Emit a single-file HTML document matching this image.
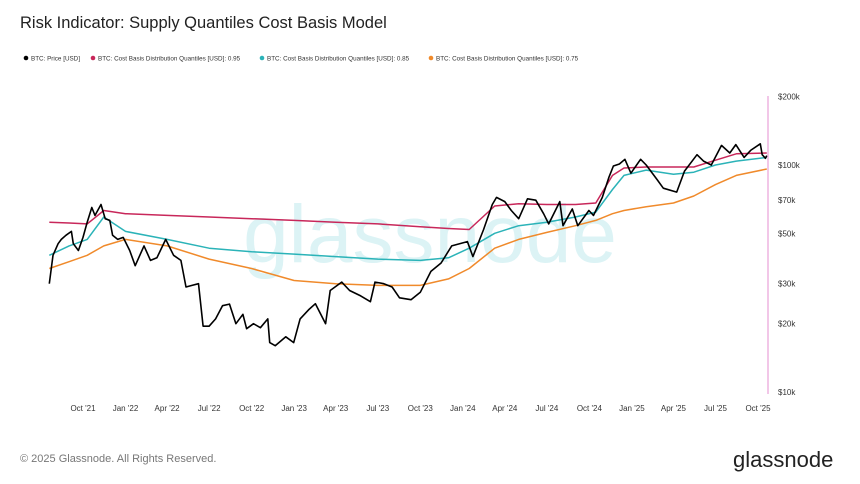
<!DOCTYPE html>
<html><head><meta charset="utf-8"><style>
body{margin:0;background:#fff;font-family:"Liberation Sans",sans-serif;}
#wrap{position:relative;width:860px;height:484px;overflow:hidden;background:#fff}
</style></head><body>
<div id="wrap">
<svg id="svg" width="860" height="484" xmlns="http://www.w3.org/2000/svg">
<text x="20" y="28" font-size="16.5" fill="#222">Risk Indicator: Supply Quantiles Cost Basis Model</text>
<g font-size="6.3" fill="#333">
<g><circle cx="26" cy="58" r="2.3" fill="#000"/><text x="31" y="60.5">BTC: Price [USD]</text></g>
<g><circle cx="93" cy="58" r="2.3" fill="#c8275a"/><text x="98" y="60.5">BTC: Cost Basis Distribution Quantiles [USD]: 0.95</text></g>
<g><circle cx="262" cy="58" r="2.3" fill="#2bb3b8"/><text x="267" y="60.5">BTC: Cost Basis Distribution Quantiles [USD]: 0.85</text></g>
<g><circle cx="431" cy="58" r="2.3" fill="#f08a2b"/><text x="436" y="60.5">BTC: Cost Basis Distribution Quantiles [USD]: 0.75</text></g>
</g>
<text x="430" y="262" font-size="82" fill="#dcf3f5" text-anchor="middle">glassnode</text>
<line x1="768" y1="96" x2="768" y2="394" stroke="#e58fd0" stroke-width="1"/>
<g id="yt" font-size="8" fill="#333"></g>
<g id="xt" font-size="8" fill="#333"></g>
<g id="series"></g>
<text x="20" y="462" font-size="11" fill="#777">© 2025 Glassnode. All Rights Reserved.</text>
<text x="733" y="467" font-size="22" fill="#222">glassnode</text>
</svg></div>
<script>
const yTicks=[10000,20000,30000,50000,70000,100000,200000];
const yTickLabels=["$10k","$20k","$30k","$50k","$70k","$100k","$200k"];
const xTickDates=["2021-10-01","2022-01-01","2022-04-01","2022-07-01","2022-10-01","2023-01-01","2023-04-01","2023-07-01","2023-10-01","2024-01-01","2024-04-01","2024-07-01","2024-10-01","2025-01-01","2025-04-01","2025-07-01","2025-10-01"];
const xTickLabels=["Oct '21","Jan '22","Apr '22","Jul '22","Oct '22","Jan '23","Apr '23","Jul '23","Oct '23","Jan '24","Apr '24","Jul '24","Oct '24","Jan '25","Apr '25","Jul '25","Oct '25"];
const priceDates=["2021-07-20","2021-07-28","2021-08-08","2021-08-15","2021-08-25","2021-09-06","2021-09-10","2021-09-21","2021-10-01","2021-10-10","2021-10-20","2021-10-27","2021-11-09","2021-11-18","2021-11-28","2021-12-04","2021-12-15","2021-12-27","2022-01-10","2022-01-22","2022-02-10","2022-02-24","2022-03-10","2022-03-29","2022-04-15","2022-05-01","2022-05-12","2022-05-25","2022-06-08","2022-06-18","2022-07-01","2022-07-15","2022-07-30","2022-08-14","2022-08-28","2022-09-12","2022-09-20","2022-10-05","2022-10-20","2022-11-05","2022-11-09","2022-11-21","2022-12-14","2022-12-31","2023-01-14","2023-02-01","2023-02-16","2023-03-10","2023-03-20","2023-04-14","2023-05-01","2023-05-25","2023-06-15","2023-06-25","2023-07-14","2023-08-01","2023-08-17","2023-09-11","2023-10-01","2023-10-24","2023-11-15","2023-12-08","2024-01-11","2024-01-23","2024-02-15","2024-03-05","2024-03-14","2024-04-01","2024-04-15","2024-05-01","2024-05-20","2024-06-07","2024-06-24","2024-07-05","2024-07-29","2024-08-05","2024-08-25","2024-09-06","2024-09-30","2024-10-10","2024-10-29","2024-11-12","2024-11-22","2024-12-05","2024-12-17","2024-12-30","2025-01-20","2025-02-01","2025-02-25","2025-03-10","2025-04-08","2025-04-25","2025-05-22","2025-06-05","2025-06-22","2025-07-14","2025-08-01","2025-08-14","2025-09-01","2025-09-15","2025-10-06","2025-10-10","2025-10-17","2025-10-20"];
const priceValues=[30000,40000,45000,47000,49000,51000,45000,42000,48000,56000,65000,60000,67000,58000,57000,49000,47000,48000,42000,36000,44000,38000,39000,47000,40000,38000,29000,29500,30000,19500,19500,21000,24000,24400,20000,22000,19000,20000,19200,21000,16500,16000,17500,16500,21000,23000,24500,20000,28000,30500,28000,26500,25000,30500,30000,29000,26000,25500,27500,34000,37000,44000,46000,39500,52000,67000,72000,69000,63000,58000,71000,70000,61000,55000,69000,54000,64000,54000,63000,60000,72000,88000,99000,101000,106000,92000,106000,100000,86000,79000,76000,94000,111000,104000,100000,122000,113000,123000,108000,116000,124000,111000,107000,110000];
const qDates=["2021-07-20","2021-09-01","2021-10-10","2021-11-15","2022-01-01","2022-04-01","2022-07-01","2022-10-01","2023-01-01","2023-04-01","2023-07-01","2023-10-01","2023-12-01","2024-01-15","2024-03-10","2024-05-01","2024-07-01","2024-09-01","2024-10-15","2024-11-20","2024-12-15","2025-02-01","2025-04-01","2025-05-15","2025-07-01","2025-08-15","2025-10-20"];
const q95Values=[56000,55500,55000,63000,61000,60000,59000,58000,57000,56000,55000,53500,52500,52000,66000,67500,67000,67000,68000,90000,97000,98000,98000,98000,105000,112000,113000];
const q85Values=[40000,44000,47000,59000,51000,47000,43000,41500,40500,39500,38500,38000,39000,43000,50000,54000,56000,59000,62000,78000,90000,95000,91000,93000,100000,104000,108000];
const q75Values=[35000,37500,40000,44000,47000,44000,38500,35000,31000,30000,29500,29500,31500,35000,43000,47000,50500,54000,57000,61000,63000,65500,68000,73000,82000,90000,96000];
const X0=83,K=(758-83)/1461,T0=Date.parse("2021-10-01");
const xs=d=>X0+(Date.parse(d)-T0)/86400000*K;
const ys=v=>165-227*Math.log10(v/100000);
const NS="http://www.w3.org/2000/svg";
const yt=document.getElementById('yt');
yTicks.forEach((v,i)=>{const t=document.createElementNS(NS,'text');t.setAttribute('x',778);t.setAttribute('y',ys(v)+3);t.textContent=yTickLabels[i];


yt.appendChild(t);});
const xt=document.getElementById('xt');
xTickDates.forEach((d,i)=>{const t=document.createElementNS(NS,'text');t.setAttribute('x',xs(d));t.setAttribute('y',411);t.setAttribute('text-anchor','middle');t.textContent=xTickLabels[i];


xt.appendChild(t);});
const g=document.getElementById('series');
function line(dates,vals,color,w,name){const p=document.createElementNS(NS,'path');
p.setAttribute('d',dates.map((d,i)=>(i?'L':'M')+xs(d).toFixed(1)+' '+ys(vals[i]).toFixed(1)).join(''));
p.setAttribute('fill','none');p.setAttribute('stroke',color);p.setAttribute('stroke-width',w);p.setAttribute('stroke-linejoin','round');


g.appendChild(p);}
line(qDates,q75Values,'#f08a2b',1.5,'series-q75');
line(qDates,q85Values,'#2bb3b8',1.5,'series-q85');
line(qDates,q95Values,'#c8275a',1.5,'series-q95');
line(priceDates,priceValues,'#000',1.6,'series-price');
</script>
</body></html>
